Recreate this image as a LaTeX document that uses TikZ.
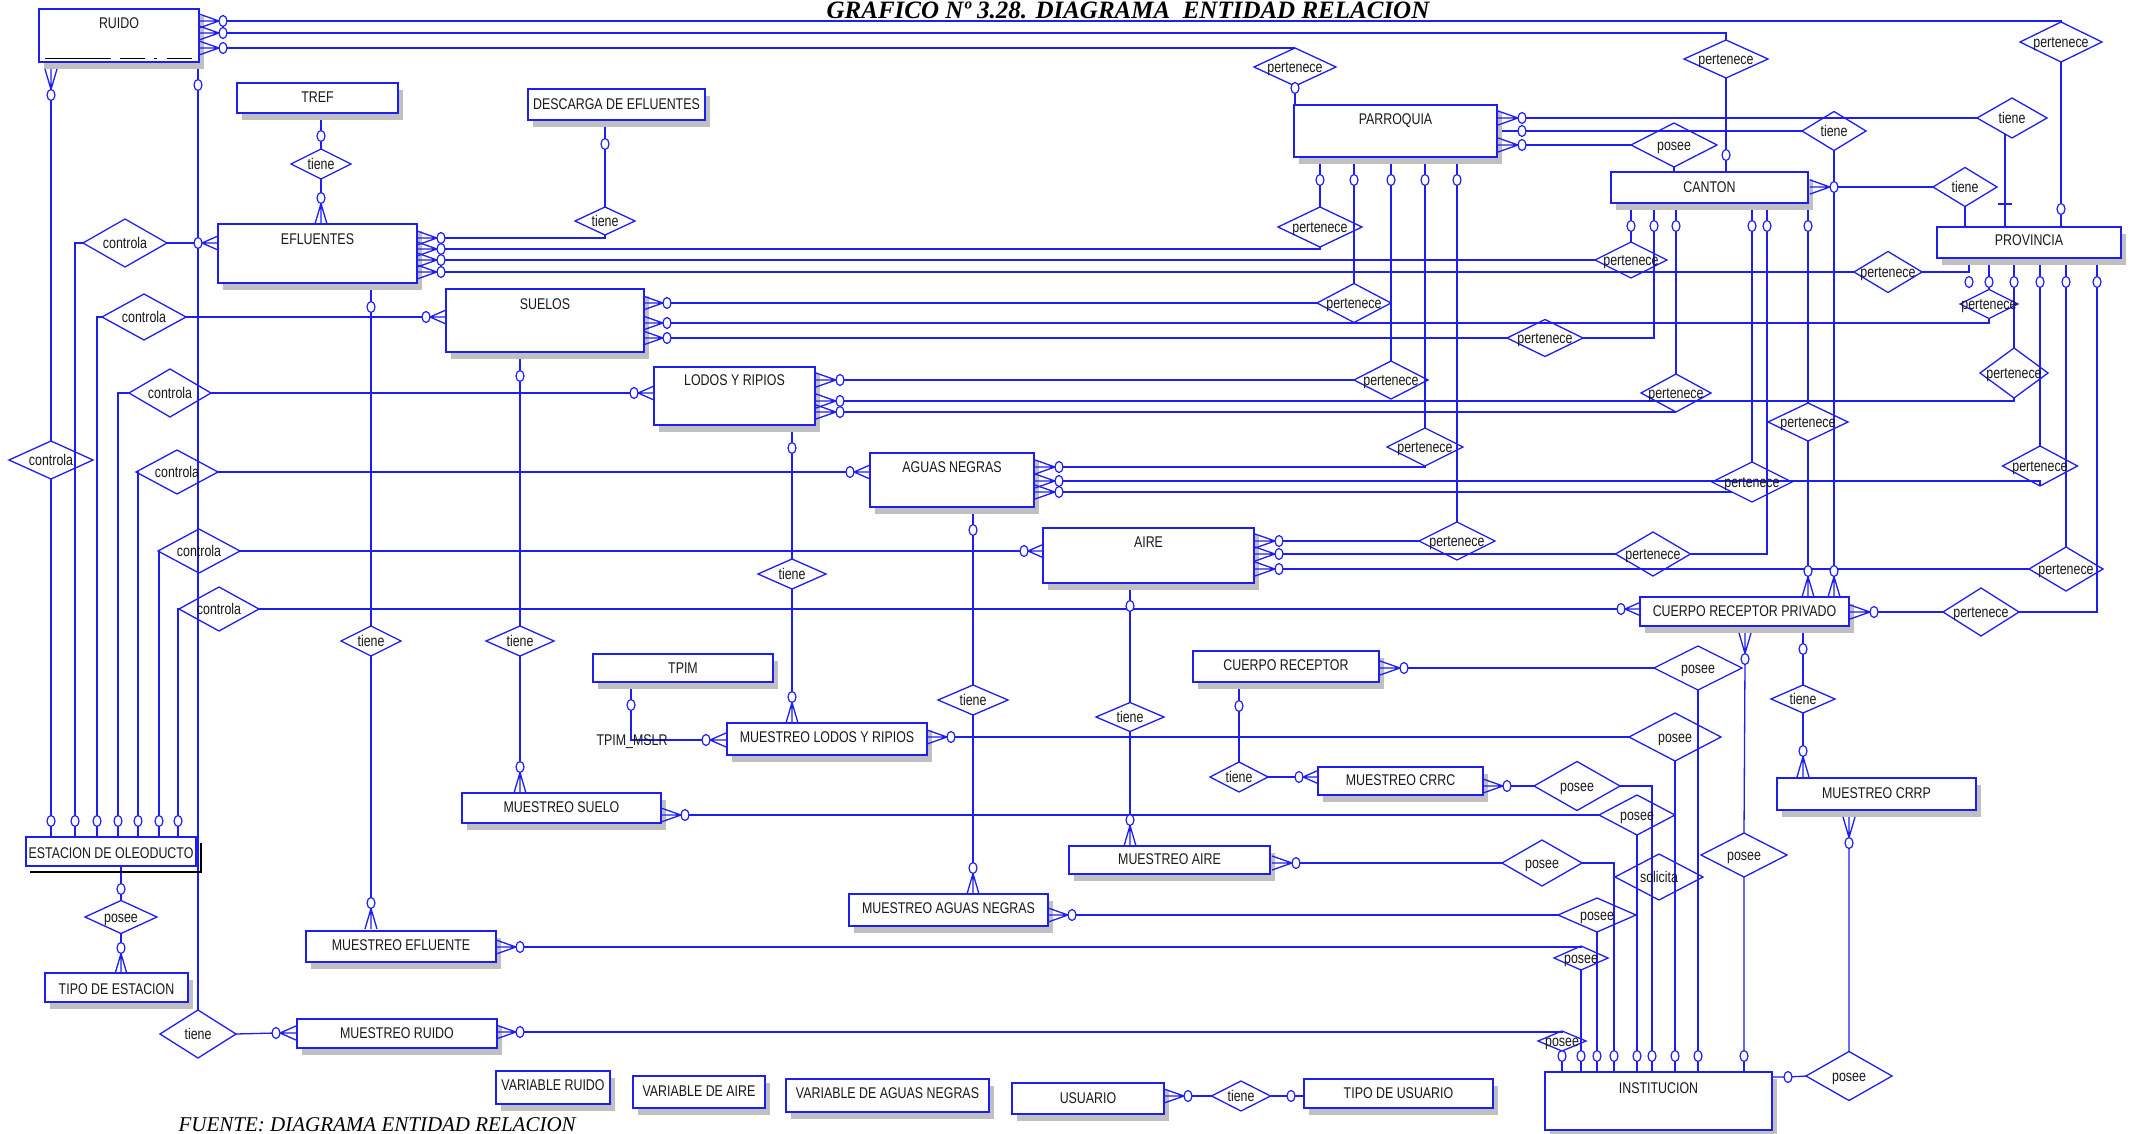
\documentclass[tikz,border=0pt]{standalone}
\usepackage{fontspec}
\setmainfont{Liberation Sans}[FakeStretch=0.8]
\newfontfamily\tnr{Liberation Serif}
\usetikzlibrary{shapes.geometric}
\definecolor{eblue}{RGB}{30,30,240}
\definecolor{shgray}{RGB}{192,192,192}
\definecolor{txt}{RGB}{25,25,25}
\pgfdeclarelayer{bg}
\pgfsetlayers{bg,main}
\tikzset{
  conn/.style={draw=eblue, line width=1.3pt},
  ebox/.style={draw=eblue, line width=2pt, fill=white, inner sep=0pt, outer sep=0pt},
  shd/.style={fill=shgray},
  etxt/.style={text=txt, font=\fontsize{15.5}{16}\selectfont, inner sep=0pt, text height=11pt, text depth=0pt},
  reln/.style={diamond, draw=eblue, line width=1.3pt, inner sep=0pt, outer sep=0pt},
  ring/.style={ellipse, draw=eblue, line width=1.2pt, fill=white, minimum width=8pt, minimum height=11pt, inner sep=0pt, outer sep=0pt},
  % crow's feet, placed at the ring they end in
  cfE/.pic={\draw[conn] (-24,-7) -- (-4,0) (-24,0) -- (-4,0) (-24,7) -- (-4,0);},
  cfW/.pic={\draw[conn] (20,-7) -- (4,0) (20,0) -- (4,0) (20,7) -- (4,0);},
  cfN/.pic={\draw[conn] (-6,26) -- (0,5.5) (0,26) -- (0,5.5) (6,26) -- (0,5.5);},
  cfS/.pic={\draw[conn] (-6,-26) -- (0,-5.5) (0,-26) -- (0,-5.5) (6,-26) -- (0,-5.5);},
}
% entity: name, x1, y1, x2, y2, label, label y
\newcommand\ent[7]{%
  \fill[shd] (#2+5,#3+7) rectangle (#4+5,#5+7);
  \node[ebox, minimum width={(#4-#2)*1pt}, minimum height={(#5-#3)*1pt}] (#1) at ({(#2+#4)/2},{(#3+#5)/2}) {};
  \node[etxt] (#1-t) at ({(#2+#4)/2},#7) {#6};
}
% relationship: name, cx, cy, half width, half height, label
\newcommand\rel[6]{%
  \node[reln, minimum width={2*#4*1pt}, minimum height={2*#5*1pt}] (#1) at (#2,#3) {};
  \node[etxt] (#1-t) at (#2,#3) {#6};
}
\newcommand\rg[3]{\node[ring] (#1) at (#2,#3) {};}

\begin{document}
\begin{tikzpicture}[x=1pt,y=-1pt]
\useasboundingbox (0,0) rectangle (2138,1134);
\begin{pgfonlayer}{bg}
  \fill[white] (0,0) rectangle (2138,1134);
\end{pgfonlayer}

% ---------- entities ----------
\ent{RUIDO}{39}{9}{199}{62}{RUIDO}{23}
\draw[black, line width=1pt] (45,59) -- (111,59) (120,59) -- (145,59) (154,59) -- (157,59) (167,59) -- (192,59);
\ent{TREF}{237}{83}{398}{113}{TREF}{97}
\ent{DESC}{528}{89}{705}{120}{DESCARGA DE EFLUENTES}{104}
\ent{EFL}{218}{224}{417}{283}{EFLUENTES}{239}
\ent{SUE}{446}{289}{644}{352}{SUELOS}{304}
\ent{LOD}{654}{367}{815}{425}{LODOS Y RIPIOS}{380}
\ent{AGU}{870}{453}{1034}{507}{AGUAS NEGRAS}{467}
\ent{AIR}{1043}{528}{1254}{583}{AIRE}{542}
\ent{PAR}{1294}{105}{1497}{157}{PARROQUIA}{119}
\ent{CAN}{1611}{172}{1808}{203}{CANTON}{187}
\ent{PRO}{1937}{227}{2121}{258}{PROVINCIA}{240}
\ent{CRP}{1640}{597}{1849}{626}{CUERPO RECEPTOR PRIVADO}{611}
\ent{CRE}{1193}{651}{1379}{682}{CUERPO RECEPTOR}{665}
\ent{MCRRC}{1318}{767}{1483}{795}{MUESTREO CRRC}{780}
\ent{MCRRP}{1777}{778}{1976}{810}{MUESTREO CRRP}{793}
\ent{TPIM}{593}{654}{773}{682}{TPIM}{668}
\ent{MLR}{727}{723}{927}{755}{MUESTREO LODOS Y RIPIOS}{737}
\ent{MSU}{462}{793}{661}{823}{MUESTREO SUELO}{807}
\ent{MAI}{1069}{846}{1270}{874}{MUESTREO AIRE}{859}
\ent{MAN}{849}{894}{1048}{926}{MUESTREO AGUAS NEGRAS}{908}
\ent{TES}{45}{973}{188}{1002}{TIPO DE ESTACION}{989}
\ent{MEF}{306}{931}{496}{962}{MUESTREO EFLUENTE}{945}
\ent{MRU}{297}{1019}{497}{1048}{MUESTREO RUIDO}{1033}
\ent{VRU}{496}{1071}{610}{1104}{VARIABLE RUIDO}{1085}
\ent{VAI}{633}{1076}{765}{1108}{VARIABLE DE AIRE}{1091}
\ent{VAN}{786}{1079}{989}{1112}{VARIABLE DE AGUAS NEGRAS}{1093}
\ent{USU}{1012}{1083}{1164}{1114}{USUARIO}{1098}
\ent{TUS}{1304}{1079}{1493}{1108}{TIPO DE USUARIO}{1093}
\ent{INS}{1545}{1072}{1772}{1130}{INSTITUCION}{1088}
% station box with a dark offset outline
\node[ebox, minimum width=170pt, minimum height=29pt] (EST) at (111,851.5) {};
\draw[black, line width=1.2pt] (30,872) -- (201,872) -- (201,843);
\node[etxt] (EST-t) at (111,853) {ESTACION DE OLEODUCTO};

% ---------- relationships ----------
\rel{tT}{321}{164}{30}{15}{tiene}
\rel{tD}{605}{221}{30}{14}{tiene}
\rel{cE}{125}{243}{42}{24}{controla}
\rel{cS}{144}{317}{42}{23}{controla}
\rel{cL}{170}{393}{41}{24}{controla}
\rel{cR}{51}{460}{42}{19}{controla}
\rel{cA}{177}{472}{41}{22}{controla}
\rel{cI}{199}{551}{41}{22}{controla}
\rel{cP}{219}{609}{40}{22}{controla}
\rel{tEf}{371}{641}{30}{15}{tiene}
\rel{tSu}{520}{641}{34}{15}{tiene}
\rel{tLo}{792}{574}{34}{15}{tiene}
\rel{tAg}{973}{700}{35}{15}{tiene}
\rel{tAi}{1130}{717}{34}{14.5}{tiene}
\rel{tCR}{1239}{777}{29}{15}{tiene}
\rel{tU}{1241}{1096}{29.5}{15}{tiene}
\rel{pE}{121}{917}{36}{16.5}{posee}
\rel{tRu}{198}{1034}{38}{24}{tiene}
\rel{pTop}{1295}{67}{41}{19}{pertenece}
\rel{pCanTop}{1726}{59}{42}{19}{pertenece}
\rel{pProvTop}{2061}{42}{41}{20}{pertenece}
\rel{poPC}{1674}{145}{43}{22}{posee}
\rel{tPC}{1834}{131}{32}{19.5}{tiene}
\rel{tPP}{2012}{118}{35}{20}{tiene}
\rel{tCP}{1965}{187}{32}{19.5}{tiene}
\rel{pPa1}{1320}{227}{42}{20}{pertenece}
\rel{pPa2}{1354}{303}{37}{19.5}{pertenece}
\rel{pPa3}{1391}{380}{37}{19}{pertenece}
\rel{pPa4}{1425}{447}{38}{19}{pertenece}
\rel{pPa5}{1457}{541}{38}{19}{pertenece}
\rel{pCa1}{1631}{260}{36}{18}{pertenece}
\rel{pCa2}{1545}{338}{38}{18.5}{pertenece}
\rel{pCa3}{1676}{393}{35}{19}{pertenece}
\rel{pCa4}{1752}{482}{40}{20}{pertenece}
\rel{pCa5}{1653}{554}{37.5}{22}{pertenece}
\rel{pCa6}{1808}{422}{40}{19}{pertenece}
\rel{pPr1}{1888}{272}{34}{20.5}{pertenece}
\rel{pPr2}{1989}{304}{29}{14.5}{pertenece}
\rel{pPr3}{2014}{373}{34}{25}{pertenece}
\rel{pPr4}{2040}{466}{37.5}{20}{pertenece}
\rel{pPr5}{2066}{569}{37}{22}{pertenece}
\rel{pPr6}{1981}{612}{38}{24}{pertenece}
\rel{tCRP}{1803}{699}{32}{14}{tiene}
\rel{poCRP}{1744}{855}{43}{22}{posee}
\rel{poCR}{1698}{668}{44}{22}{posee}
\rel{poLo}{1675}{737}{46}{24}{posee}
\rel{poCRRC}{1577}{786}{43}{24.5}{posee}
\rel{poSu}{1637}{815}{38}{20}{posee}
\rel{poAi}{1542}{863}{40}{23}{posee}
\rel{soli}{1659}{877}{44}{23}{solicita}
\rel{poAg}{1597}{915}{39}{17}{posee}
\rel{poEf}{1581}{958}{27}{12}{posee}
\rel{poRu}{1562}{1041}{24}{10}{posee}
\rel{poIn}{1849}{1076}{43}{24.5}{posee}

% ---------- optionality rings ----------
\rg{rR1}{223}{21}\rg{rR2}{223}{33}\rg{rR3}{223}{48}\rg{rR4}{51}{95}\rg{rR5}{198}{85}
\rg{rT}{321}{136}\rg{rEf0}{321}{198}\rg{rD}{605}{144}
\rg{rE1}{441}{238}\rg{rE2}{441}{249}\rg{rE3}{441}{260}\rg{rE4}{441}{272}\rg{rE5}{198}{243}\rg{rE6}{371}{307}\rg{rME}{371}{903}
\rg{rS1}{667}{303}\rg{rS2}{667}{323}\rg{rS3}{667}{338}\rg{rS4}{426}{317}\rg{rS5}{520}{376}\rg{rMS}{520}{767}
\rg{rL1}{840}{380}\rg{rL2}{840}{401}\rg{rL3}{840}{412}\rg{rL4}{634}{393}\rg{rL5}{792}{448}\rg{rML}{792}{697}
\rg{rA1}{1059}{467}\rg{rA2}{1059}{481}\rg{rA3}{1059}{492}\rg{rA4}{850}{472}\rg{rA5}{973}{530}\rg{rMA}{973}{868}
\rg{rI1}{1279}{541}\rg{rI2}{1279}{554}\rg{rI3}{1279}{569}\rg{rI4}{1024}{551}\rg{rI5}{1130}{606}\rg{rMI}{1130}{820}
\rg{rP1}{1295}{88}\rg{rP2}{1320}{180}\rg{rP3}{1354}{180}\rg{rP4}{1391}{180}\rg{rP5}{1425}{180}\rg{rP6}{1457}{180}
\rg{rP7}{1522}{118}\rg{rP8}{1522}{131}\rg{rP9}{1522}{145}
\rg{rC0}{1726}{155}\rg{rC1}{1834}{187}
\rg{rC2}{1631}{226}\rg{rC3}{1654}{226}\rg{rC4}{1676}{226}\rg{rC5}{1752}{226}\rg{rC6}{1767}{226}\rg{rC7}{1808}{226}
\rg{rV0}{2061}{209}\rg{rV1}{1969}{282}\rg{rV2}{1989}{282}\rg{rV3}{2014}{282}\rg{rV4}{2040}{282}\rg{rV5}{2066}{282}\rg{rV6}{2097}{282}
\rg{rCP0}{1621}{609}\rg{rCP1}{1808}{571}\rg{rCP2}{1834}{571}\rg{rCP3}{1874}{612}\rg{rCP4}{1745}{659}\rg{rCP5}{1803}{649}\rg{rMRP}{1803}{751}
\rg{rCR1}{1404}{668}\rg{rCR2}{1239}{706}\rg{rMC}{1299}{777}\rg{rMC2}{1507}{786}
\rg{rML2}{951}{737}\rg{rML3}{706}{740}\rg{rTP}{631}{705}
\rg{rMS2}{685}{815}\rg{rMI2}{1296}{863}\rg{rMA2}{1072}{915}\rg{rME2}{520}{947}\rg{rMR}{276}{1033}\rg{rMR2}{520}{1032}
\rg{rU}{1188}{1096}\rg{rTU}{1291}{1096}\rg{rIn}{1788}{1077}\rg{rMRP2}{1849}{843}
\rg{e1}{51}{821}\rg{e2}{75}{821}\rg{e3}{97}{821}\rg{e4}{118}{821}\rg{e5}{138}{821}\rg{e6}{159}{821}\rg{e7}{178}{821}
\rg{rEs}{121}{889}\rg{rTE}{121}{948}
\rg{n1}{1562}{1056}\rg{n2}{1581}{1056}\rg{n3}{1597}{1056}\rg{n4}{1614}{1056}\rg{n5}{1637}{1056}
\rg{n6}{1652}{1056}\rg{n7}{1675}{1056}\rg{n8}{1698}{1056}\rg{n9}{1744}{1056}

% ---------- crow's feet ----------
\foreach \n in {rR1,rR2,rR3,rE1,rE2,rE3,rE4,rS1,rS2,rS3,rL1,rL2,rL3,rA1,rA2,rA3,rI1,rI2,rI3,rP7,rP9,rC1,rCP3,rCR1,rMC2,rML2,rMS2,rMI2,rMA2,rME2,rMR2,rU}
  \pic at (\n) {cfE};
\foreach \n in {rE5,rS4,rL4,rA4,rI4,rCP0,rMC,rML3,rMR}
  \pic at (\n) {cfW};
\foreach \n in {rR4,rCP4,rMRP2}
  \pic at (\n) {cfS};
\foreach \n in {rEf0,rME,rMS,rML,rMA,rMI,rCP1,rCP2,rMRP,rTE}
  \pic at (\n) {cfN};

% ---------- connectors ----------
\begin{pgfonlayer}{bg}
% RUIDO
\draw[conn] (rR1) -| (pProvTop.north);
\draw[conn] (rR2) -| (pCanTop.north);
\draw[conn] (rR3) -| (pTop.north);
\draw[conn] (rR4) -- (cR.north) (cR.south) -- (e1);
\draw[conn] (rR5 |- RUIDO.south) -- (rR5) -- (tRu.north);
% TREF / DESCARGA
\draw[conn] (rT |- TREF.south) -- (rT) -- (tT.north) (tT.south) -- (rEf0);
\draw[conn] (rD |- DESC.south) -- (rD) -- (tD.north);
% EFLUENTES
\draw[conn] (rE1) -| (tD.south);
\draw[conn] (rE2) -| (pPa1.south);
\draw[conn] (rE3) -- (pCa1.west);
\draw[conn] (rE4) -- (pPr1.west);
\draw[conn] (rE5) -- (cE.east);
\draw[conn] (rE6 |- EFL.south) -- (rE6) -- (tEf.north) (tEf.south) -- (rME);
% SUELOS
\draw[conn] (rS1) -- (pPa2.west);
\draw[conn] (rS2) -| (pPr2.south);
\draw[conn] (rS3) -- (pCa2.west);
\draw[conn] (rS4) -- (cS.east);
\draw[conn] (rS5 |- SUE.south) -- (rS5) -- (tSu.north) (tSu.south) -- (rMS);
% LODOS Y RIPIOS
\draw[conn] (rL1) -- (pPa3.west);
\draw[conn] (rL2) -| (pPr3.south);
\draw[conn] (rL3) -| (pCa3.south);
\draw[conn] (rL4) -- (cL.east);
\draw[conn] (rL5 |- LOD.south) -- (rL5) -- (tLo.north) (tLo.south) -- (rML);
% AGUAS NEGRAS
\draw[conn] (rA1) -| (pPa4.south);
\draw[conn] (rA2) -| (pPr4.south);
\draw[conn] (rA3) -- (pCa4.south west);
\draw[conn] (rA4) -- (cA.east);
\draw[conn] (rA5 |- AGU.south) -- (rA5) -- (tAg.north) (tAg.south) -- (rMA);
% AIRE
\draw[conn] (rI1) -- (pPa5.west);
\draw[conn] (rI2) -- (pCa5.west);
\draw[conn] (rI3) -- (pPr5.west);
\draw[conn] (rI4) -- (cI.east);
\draw[conn] (rI5 |- AIR.south) -- (rI5) -- (tAi.north) (tAi.south) -- (rMI);
% PARROQUIA
\draw[conn] (pTop.south) -- (rP1) -- (rP1 |- PAR.north);
\foreach \r/\d in {rP2/pPa1,rP3/pPa2,rP4/pPa3,rP5/pPa4,rP6/pPa5}
  \draw[conn] (\r |- PAR.south) -- (\r) -- (\d.north);
\draw[conn] (rP7) -- (tPP.west);
\draw[conn] (rP8 -| PAR.east) -- (rP8) -- (tPC.west);
\draw[conn] (rP9) -- (poPC.west);
\draw[conn] (poPC.south) -- (poPC.south |- CAN.north);
% CANTON
\draw[conn] (rC0 |- CAN.north) -- (rC0) -- (pCanTop.south);
\draw[conn] (tPC.south) -- (rCP2);
\draw[conn] (rC1) -- (tCP.west);
\draw[conn] (tCP.south) -- (tCP.south |- PRO.north);
\foreach \r in {rC2,rC3,rC4,rC5,rC6,rC7}
  \draw[conn] (\r |- CAN.south) -- (\r);
\draw[conn] (rC2) -- (pCa1.north);
\draw[conn] (rC3) |- (pCa2.east);
\draw[conn] (rC4) -- (pCa3.north);
\draw[conn] (rC5) -- (pCa4.north);
\draw[conn] (rC6) |- (pCa5.east);
\draw[conn] (rC7) -- (pCa6.north) (pCa6.south) -- (rCP1);
% PROVINCIA
\draw[conn] ([xshift=-7pt,yshift=4pt]tPP.south) coordinate (q1) -- (q1 |- PRO.north);
\draw[conn] (rV0 |- PRO.north) -- (rV0) -- (pProvTop.south);
\draw[conn] (rV1 |- PRO.south) |- (pPr1.east);
\foreach \r in {rV2,rV3,rV4,rV5,rV6}
  \draw[conn] (\r |- PRO.south) -- (\r);
\draw[conn] (rV2) -- (pPr2.north);
\draw[conn] (rV3) -- (pPr3.north);
\draw[conn] (rV4) -- (pPr4.north);
\draw[conn] (rV5) -- (pPr5.north);
\draw[conn] (rV6) |- (pPr6.east);
% CUERPO RECEPTOR PRIVADO
\draw[conn] (rCP0) -- (cP.east);
\draw[conn] (rCP3) -- (pPr6.west);
\draw[conn] (rCP4) -- (poCRP.north) (poCRP.south) -- (n9);
\draw[conn] (rCP5 |- CRP.south) -- (rCP5) -- (tCRP.north) (tCRP.south) -- (rMRP);
% CUERPO RECEPTOR
\draw[conn] (rCR1) -- (poCR.west) (poCR.south) -- (n8);
\draw[conn] (rCR2 |- CRE.south) -- (rCR2) -- (tCR.north) (tCR.east) -- (rMC);
% sampling entities to INSTITUCION
\draw[conn] (rMC2) -- (poCRRC.west) (poCRRC.east) -| (n6);
\draw[conn] (rML2) -- (poLo.west) (poLo.south) -- (n7);
\draw[conn] (rTP |- TPIM.south) -- (rTP) |- (rML3);
\draw[conn] (rMS2) -- (poSu.west) (poSu.south) -- (n5);
\draw[conn] (rMI2) -- (poAi.west) (poAi.east) -| (n4);
\draw[conn] (rMA2) -- (poAg.west) (poAg.south) -- (n3);
\draw[conn] (rME2) -| (poEf.north) (poEf.south) -- (n2);
\draw[conn] (tRu.east) -- (rMR);
\draw[conn] (rMR2) -| (poRu.north) (poRu.south) -- (n1);
\foreach \r in {n1,n2,n3,n4,n5,n6,n7,n8,n9}
  \draw[conn] (\r) -- (\r |- INS.north);
\draw[conn] (rIn -| INS.east) -- (rIn) -- (poIn.west) (poIn.north) -- (rMRP2);
% ESTACION DE OLEODUCTO
\draw[conn] (cE.west) -| (e2);
\draw[conn] (cS.west) -| (e3);
\draw[conn] (cL.west) -| (e4);
\draw[conn] (cA.west) -| (e5);
\draw[conn] (cI.west) -| (e6);
\draw[conn] (cP.west) -| (e7);
\foreach \r in {e1,e2,e3,e4,e5,e6,e7}
  \draw[conn] (\r) -- (\r |- EST.north);
\draw[conn] (rEs |- EST.south) -- (rEs) -- (pE.north) (pE.south) -- (rTE);
% USUARIO
\draw[conn] (rU) -- (tU.west) (tU.east) -- (rTU) -- (rTU -| TUS.west);
\end{pgfonlayer}

% one-only bar on the PROVINCIA link
\draw[conn] (1998,204) -- (2012,204);
\node[etxt] (tpimlbl) at (632,740) {TPIM\_MSLR};

% ---------- title and source ----------
\node[anchor=base, font=\tnr\bfseries\itshape\fontsize{25}{25}\selectfont] (title) at (1128,19) {GRAFICO Nº 3.28. DIAGRAMA\ \ ENTIDAD RELACION};
\node[anchor=base west, font=\tnr\itshape\fontsize{21}{21}\selectfont] (src) at (175,1131) {FUENTE: DIAGRAMA ENTIDAD RELACION};
\end{tikzpicture}
\end{document}
